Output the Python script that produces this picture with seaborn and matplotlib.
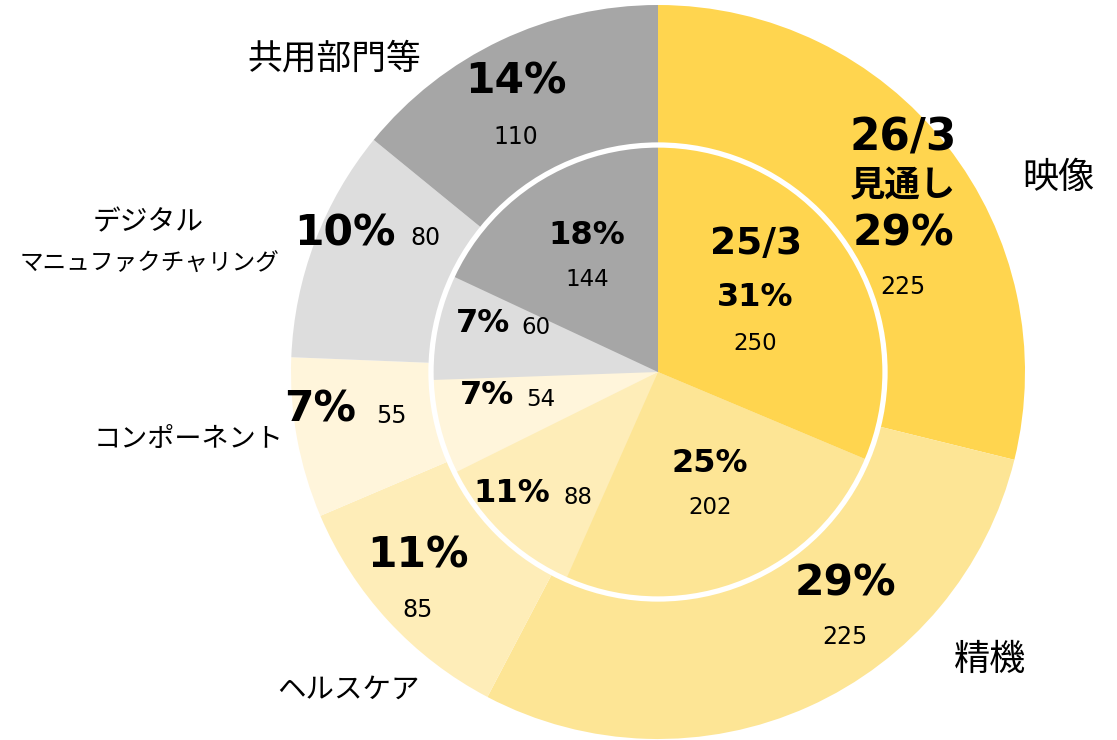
import matplotlib
matplotlib.use("Agg")
import matplotlib.pyplot as plt
import seaborn as sns
from matplotlib.patches import Circle

# data
segments = ["映像", "精機", "ヘルスケア", "コンポーネント",
            "デジタル", "マニュファクチャリング", "共用部門等"]
values_fy25 = [250, 202, 88, 54, 60, 144]      # inner pie (25/3)
values_fy26 = [225, 225, 85, 55, 80, 110]      # outer ring (26/3 見通し)
pct_fy25 = ["31%", "25%", "11%", "7%", "7%", "18%"]
pct_fy26 = ["29%", "29%", "11%", "7%", "10%", "14%"]
colors = ["#FFD54F", "#FDE595", "#FEEDB8", "#FFF5DB", "#DDDDDD", "#A6A6A6"]

sns.set_theme(style="white")
plt.rcParams["font.family"] = ["DejaVu Sans", "Noto Sans CJK JP"]

W, H = 1117, 740
fig = plt.figure(figsize=(W / 100, H / 100), dpi=100)
ax = fig.add_axes([0, 0, 1, 1])

cx, cy = 658, H - 372
r_out, r_in = 367, 226

ax.pie(values_fy26, colors=colors, startangle=90, counterclock=False,
       center=(cx, cy), radius=r_out, wedgeprops=dict(linewidth=0))
ax.pie(values_fy25, colors=colors, startangle=90, counterclock=False,
       center=(cx, cy), radius=r_in, wedgeprops=dict(linewidth=0))
ax.add_patch(Circle((cx, cy), r_in + 1, fill=False, edgecolor="white", linewidth=3.8))

ax.set_xlim(0, W)
ax.set_ylim(0, H)
ax.set_aspect("equal")
ax.axis("off")


def put(x, y, s, size, bold=False, **kw):
    # x, y in image pixels (y from top)
    ax.text(x, H - y, s, fontsize=size, fontweight="bold" if bold else "normal",
            ha="center", va="center", color="black", **kw)


# outer ring labels: (percent pos, value pos)
outer_pos = [((903, 233), (903, 287)), ((845, 583), (845, 637)),
             ((418, 555), (418, 610)), ((320, 410), (391, 416)),
             ((345, 233), (425, 238)), ((516, 82), (516, 137))]
for (pp, vp), p, v in zip(outer_pos, pct_fy26, values_fy26):
    put(*pp, p, 30.5, bold=True)
    put(*vp, str(v), 17)
put(903, 138, "26/3", 31.5, bold=True)
put(903, 186, "見通し", 25.5, bold=True)

# inner pie labels
inner_pos = [((755, 298), (755, 343)), ((710, 463), (710, 508)),
             ((512, 494), (578, 497)), ((487, 396), (541, 399)),
             ((483, 324), (536, 327)), ((587, 235), (587, 280))]
for (pp, vp), p, v in zip(inner_pos, pct_fy25, values_fy25):
    put(*pp, p, 23, bold=True)
    put(*vp, str(v), 16.5)
put(756, 244, "25/3", 27, bold=True)

# segment names
name_pos = [(1058, 178), (990, 660), (348, 690), (189, 440),
            (148, 222), (149, 264), (334, 59)]
name_size = [26, 26, 20.5, 19.5, 20, 17, 25]
for (x, y), s, fs in zip(name_pos, segments, name_size):
    put(x, y, s, fs)

fig.savefig("out.png", dpi=100)
